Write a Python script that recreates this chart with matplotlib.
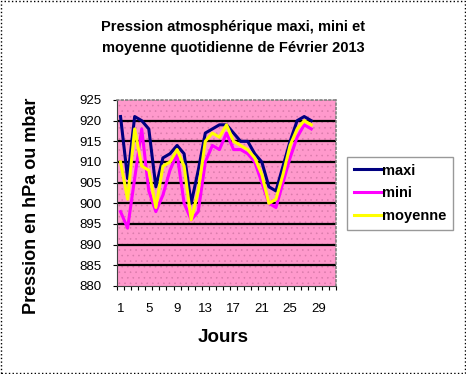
import numpy as np
import matplotlib
matplotlib.use("Agg")
import matplotlib.pyplot as plt
from matplotlib.patches import Rectangle

plt.rcParams['font.family'] = ['Liberation Sans', 'DejaVu Sans']
plt.rcParams['hatch.linewidth'] = 0.4

jours = np.arange(1, 29)
maxi = [921, 906, 921, 920, 918, 904, 911, 912, 914, 912, 900, 908, 917, 918,
        919, 919, 917, 915, 915, 912, 910, 904, 903, 909, 915, 920, 921, 920]
mini = [898, 894, 906, 918, 903, 898, 902, 908, 912, 900, 896, 898, 910, 914,
        913, 917, 913, 913, 912, 910, 905, 900, 899, 905, 911, 916, 919, 918]
moyenne = [910, 901, 918, 909, 908, 899, 909, 910, 913, 909, 896, 903, 915, 917,
           916, 919, 915, 914, 913, 911, 907, 900, 901, 907, 914, 918, 920, 919]
yticks = list(range(880, 926, 5))
xlabels = [1, 5, 9, 13, 17, 21, 25, 29]

fig = plt.figure(figsize=(4.66, 3.74), dpi=100)
ax = fig.add_axes([117/466, 88/374, 219/466, 186/374])

ax.set_facecolor('#FF99CC')
ax.add_patch(Rectangle((0, 0), 1, 1, transform=ax.transAxes, facecolor='none',
                       edgecolor='#D97AAA', hatch='...', linewidth=0, zorder=0))

for v in yticks[1:-1]:
    ax.axhline(v, color='black', linewidth=1.6, zorder=1)

ax.plot(jours, maxi, color='#000080', linewidth=2.2, label='maxi', zorder=3)
ax.plot(jours, mini, color='#FF00FF', linewidth=2.2, label='mini', zorder=3)
ax.plot(jours, moyenne, color='#FFFF00', linewidth=2.2, label='moyenne', zorder=3)

ax.set_xlim(0.5, 31.5)
ax.set_ylim(880, 925)
ax.set_yticks(yticks)
ax.set_yticklabels([str(v) for v in yticks], fontsize=9.5)
ax.set_xticks(xlabels)
ax.set_xticklabels([str(v) for v in xlabels], fontsize=9.5)
ax.set_xticks(np.arange(0.5, 32, 1), minor=True)
ax.tick_params(axis='x', which='major', length=0, pad=12)
ax.tick_params(axis='x', which='minor', length=3, width=0.8, direction='out')
ax.tick_params(axis='y', length=3, width=0.8, direction='out', pad=8)

for s in ['top', 'right']:
    ax.spines[s].set_color('#808080')
    ax.spines[s].set_linestyle(':')
    ax.spines[s].set_linewidth(1.2)
for s in ['left', 'bottom']:
    ax.spines[s].set_color('#404040')
    ax.spines[s].set_linewidth(0.8)

fig.text(223/466, 1 - 338/374, 'Jours', ha='center', va='center',
         fontsize=13.5, fontweight='bold')
fig.text(32/466, 1 - 206/374, 'Pression en hPa ou mbar', ha='center', va='center',
         rotation=90, fontsize=13, fontweight='bold')

fig.text(233/466, 1 - 27/374, 'Pression atmosphérique maxi, mini et', ha='center',
         va='center', fontsize=10.5, fontweight='bold')
fig.text(233/466, 1 - 48/374, 'moyenne quotidienne de Février 2013', ha='center',
         va='center', fontsize=10.5, fontweight='bold')

leg = fig.legend(loc='upper left', bbox_to_anchor=(347/466, 1 - 157/374),
                 prop={'weight': 'bold', 'size': 10.5}, frameon=True, fancybox=False,
                 handlelength=1.85, handletextpad=0.1, labelspacing=0.6,
                 borderpad=0.45, borderaxespad=0)
leg.get_frame().set_edgecolor('#808080')
leg.get_frame().set_linewidth(1)

fig.patches.append(Rectangle((0.002, 0.002), 0.995, 0.995, transform=fig.transFigure,
                             fill=False, edgecolor='black', linestyle=':', linewidth=1))

fig.savefig('out.png', dpi=100)
